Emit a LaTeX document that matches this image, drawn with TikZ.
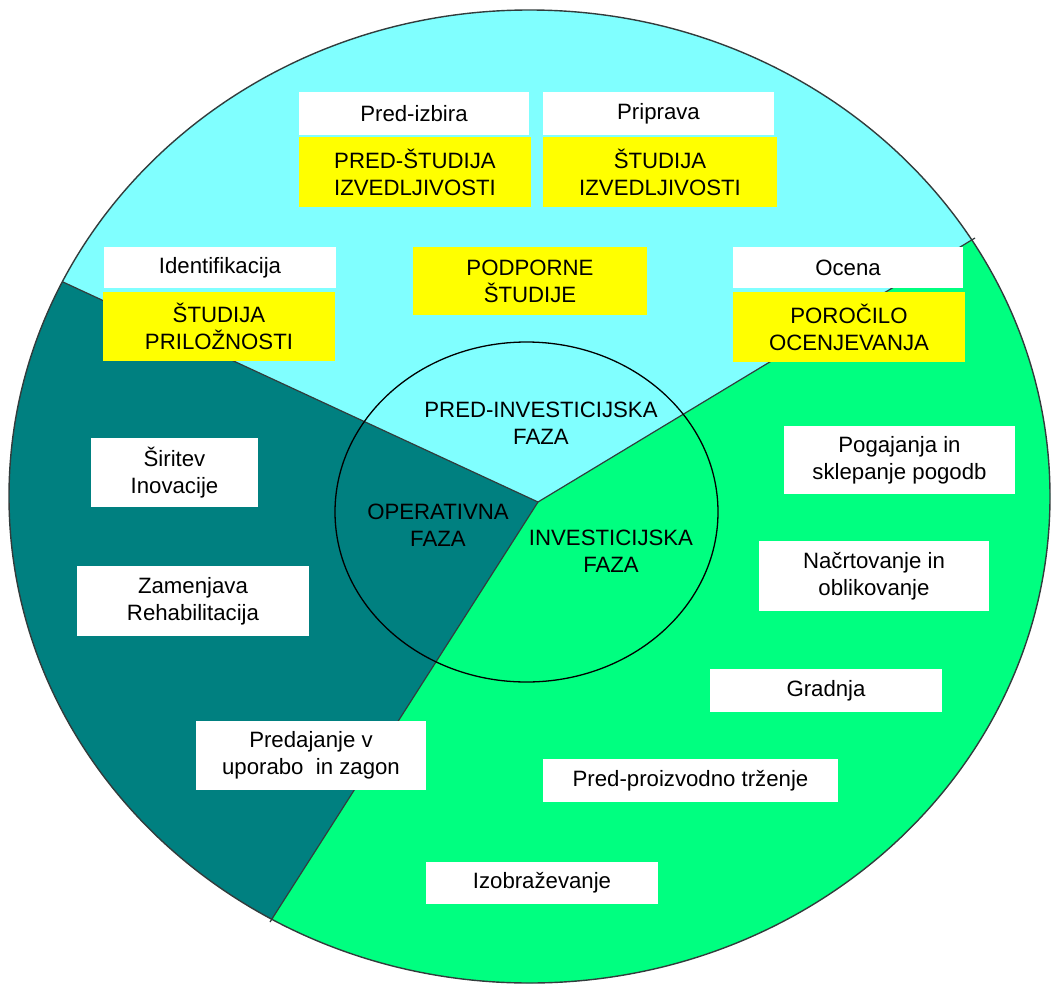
\documentclass[tikz,border=0pt]{standalone}
\usepackage{fontspec}
\setmainfont{Liberation Sans}
\definecolor{pcyan}{RGB}{128,255,255}
\definecolor{pteal}{RGB}{0,128,128}
\definecolor{pgreen}{RGB}{0,255,128}
\definecolor{pyellow}{RGB}{255,255,0}
\definecolor{pedge}{RGB}{50,60,60}
\tikzset{
  lbl/.style={font=\fontsize{22.2}{27}\selectfont, align=center, inner sep=0pt, text=black},
  wbox/.style={lbl, fill=white},
  ybox/.style={lbl, fill=pyellow},
  sz/.style 2 args={minimum width=#1, minimum height=#2},
  divider/.style={draw=pedge, line width=1.2pt},
}
\begin{document}
\begin{tikzpicture}[x=1pt,y=-1pt]
\useasboundingbox (0,0) rectangle (1052,985);
% pie geometry
\coordinate (P) at (538,502);
\coordinate (A) at (63,282);
\coordinate (B) at (270,922);
\coordinate (C) at (975,238);
\begin{scope}
  \clip (529.5,496.5) ellipse [x radius=520.5, y radius=486.5];
  \fill[pcyan] (0,0) rectangle (1052,985);
  \fill[pteal] (P) -- (-175,172) -- (-175,1132) -- (136,1132) -- cycle;
  \fill[pgreen] (P) -- (136,1132) -- (1200,1132) -- (1193.5,106) -- cycle;
\end{scope}
\draw[divider] (P) -- (A);
\draw[divider] (P) -- (B);
\draw[divider] (P) -- (C);
\draw[draw=pedge, line width=1.4pt] (529.5,496.5) ellipse [x radius=520.5, y radius=486.5];
% inner ellipse
\draw[black, line width=1.3pt] (526.5,512) ellipse [x radius=191.5, y radius=170];
\node[lbl] (pre) at (541,423) {PRED-INVESTICIJSKA\\FAZA};
\node[lbl] (ope) at (438,525) {OPERATIVNA\\FAZA};
\node[lbl] (inv) at (611,551) {INVESTICIJSKA\\FAZA};
% pre-investment boxes
\node[wbox, sz={230pt}{43pt}] (predizbira) at (414,113.5) {Pred-izbira};
\node[ybox, sz={232pt}{70pt}] (predstudija) at (415,172) {PRED-ŠTUDIJA\\IZVEDLJIVOSTI};
\node[wbox, sz={231pt}{43pt}] (priprava) at (658.5,113.5) {Priprava};
\node[ybox, sz={234pt}{70pt}] (studija) at (660,172) {ŠTUDIJA\\IZVEDLJIVOSTI};
\node[wbox, sz={232pt}{41pt}] (ident) at (220,267.5) {Identifikacija};
\node[ybox, sz={232pt}{69pt}] (prilozn) at (219,326.5) {ŠTUDIJA\\PRILOŽNOSTI};
\node[ybox, sz={234pt}{68pt}] (podporne) at (530,281) {PODPORNE\\ŠTUDIJE};
\node[wbox, sz={230pt}{41pt}] (ocena) at (848,267.5) {Ocena};
\node[ybox, sz={232pt}{70pt}] (porocilo) at (849,327) {POROČILO\\OCENJEVANJA};
% operational boxes
\node[wbox, sz={167pt}{69pt}] (siritev) at (174.5,472.5) {Širitev\\Inovacije};
\node[wbox, sz={232pt}{70pt}] (zamenjava) at (193,601) {Zamenjava\\Rehabilitacija};
\node[wbox, sz={230pt}{69pt}] (predajanje) at (311,755.5) {Predajanje v\\uporabo\ \ in zagon};
% investment boxes
\node[wbox, sz={231pt}{68pt}] (pogajanja) at (899.5,460) {Pogajanja in\\sklepanje pogodb};
\node[wbox, sz={230pt}{70pt}] (nacrt) at (874,576) {Načrtovanje in\\oblikovanje};
\node[wbox, sz={232pt}{43pt}] (gradnja) at (826,690.5) {Gradnja};
\node[wbox, sz={295pt}{43pt}] (trzenje) at (690.5,780.5) {Pred-proizvodno trženje};
\node[wbox, sz={232pt}{42pt}] (izobr) at (542,883) {Izobraževanje};
\end{tikzpicture}
\end{document}
